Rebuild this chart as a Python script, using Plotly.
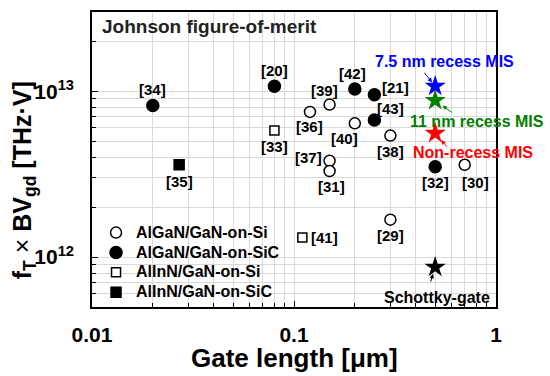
import plotly.graph_objects as go
import numpy as np

# ---------------- data ----------------
si_algan_refs = ["[36]", "[39]", "[37]", "[31]", "[40]", "[38]", "[30]", "[29]"]
si_algan_x = [0.12, 0.15, 0.15, 0.15, 0.20, 0.30, 0.70, 0.30]
si_algan_y = [7.5e12, 8.3e12, 3.8e12, 3.3e12, 6.4e12, 5.4e12, 3.6e12, 1.68e12]

sic_algan_refs = ["[34]", "[20]", "[42]", "[21]", "[43]", "[32]"]
sic_algan_x = [0.02, 0.08, 0.20, 0.25, 0.25, 0.50]
sic_algan_y = [8.2e12, 1.07e13, 1.03e13, 9.5e12, 6.7e12, 3.5e12]

si_alinn_refs = ["[33]", "[41]"]
si_alinn_x = [0.08, 0.11]
si_alinn_y = [5.8e12, 1.31e12]

sic_alinn_refs = ["[35]"]
sic_alinn_x = [0.027]
sic_alinn_y = [3.6e12]

work_labels = ["7.5 nm recess MIS", "11 nm recess MIS", "Non-recess MIS", "Schottky-gate"]
work_x = [0.5, 0.5, 0.5, 0.5]
work_y = [1.07e13, 8.8e12, 5.57e12, 8.7e11]

x_tick_vals = [0.01, 0.1, 1]
x_tick_text = ["0.01", "0.1", "1"]
y_tick_vals = [1e12, 1e13]
y_tick_text = ["10<sup>12</sup>", "10<sup>13</sup>"]

# ---------------- styles / positions ----------------
FONT = "Liberation Sans, Arial, sans-serif"
work_colors = ["#0000ff", "#008000", "#ff0000", "#000000"]
label_offsets = {
    "[34]": (0, 16), "[35]": (0, -17), "[20]": (0, 16), "[33]": (0, -16),
    "[36]": (0, -15), "[39]": (-5, 14), "[37]": (-21, 3), "[31]": (2, -15),
    "[42]": (-2, 16), "[40]": (-10, -15), "[21]": (21, 7), "[43]": (16, 12),
    "[38]": (0, -16), "[32]": (0, -16), "[30]": (11, -18), "[29]": (0, -16),
    "[41]": (22, 0),
}
work_text_shift = [(9, 25), (42, -21), (38, -19), (2, -30)]
work_arrow = [(-12, -15, 5), (18, 13, 9), (13, 15, 9), (-5, 16, 7)]

fig = go.Figure()
groups = [
    ("AlGaN/GaN-on-Si", si_algan_x, si_algan_y, si_algan_refs, "circle", "white", 11),
    ("AlGaN/GaN-on-SiC", sic_algan_x, sic_algan_y, sic_algan_refs, "circle", "black", 12),
    ("AlInN/GaN-on-Si", si_alinn_x, si_alinn_y, si_alinn_refs, "square", "white", 9),
    ("AlInN/GaN-on-SiC", sic_alinn_x, sic_alinn_y, sic_alinn_refs, "square", "black", 10),
]
annotations = []
for name, xs, ys, refs, sym, fill, size in groups:
    fig.add_trace(go.Scatter(
        x=xs, y=ys, mode="markers",
        name="<span style='font-size:16px'>" + name + "</span>",
        marker=dict(symbol=sym, size=size, color=fill,
                    line=dict(color="black", width=1.5)),
    ))
    for xv, yv, r in zip(xs, ys, refs):
        dx, dy = label_offsets[r]
        annotations.append(dict(x=np.log10(xv), y=np.log10(yv), text=r, showarrow=False,
                                xshift=dx, yshift=dy,
                                font=dict(family=FONT, size=15, color="black", weight="bold")))

for i, (lab, xv, yv) in enumerate(zip(work_labels, work_x, work_y)):
    fig.add_trace(go.Scatter(
        x=[xv], y=[yv], mode="markers", showlegend=False,
        marker=dict(symbol="star", size=16, color=work_colors[i],
                    line=dict(width=0)),
    ))
    dx, dy = work_text_shift[i]
    annotations.append(dict(x=np.log10(xv), y=np.log10(yv), text=lab, showarrow=False,
                            xshift=dx, yshift=dy,
                            font=dict(family=FONT, size=16, color=work_colors[i], weight="bold")))
    ax, ay, so = work_arrow[i]
    annotations.append(dict(x=np.log10(xv), y=np.log10(yv), text="", showarrow=True,
                            ax=ax, ay=ay, axref="pixel", ayref="pixel",
                            arrowhead=2, arrowsize=0.9, arrowwidth=1,
                            arrowcolor=work_colors[i], standoff=so))

annotations.append(dict(xref="paper", yref="paper", x=0.02, y=0.952, xanchor="left",
                        yanchor="middle", showarrow=False, text="Johnson figure-of-merit",
                        font=dict(family=FONT, size=19, color="#222", weight="bold")))
annotations.append(dict(xref="paper", yref="paper", x=0.5, y=-0.172, xanchor="center",
                        yanchor="middle", showarrow=False, text="Gate length [μm]",
                        font=dict(family=FONT, size=26, color="black", weight="bold")))
annotations.append(dict(xref="paper", yref="paper", x=-0.168, y=0.43, xanchor="center",
                        yanchor="middle", showarrow=False, textangle=-90,
                        text="f<sub>T</sub> <span style='font-weight:normal'>×</span> BV<sub>gd</sub> [THz·V]",
                        font=dict(family=FONT, size=25, color="black", weight="bold")))

minor_x = [m * 10.0 ** e for e in (-2, -1) for m in range(2, 10)]
minor_y = [m * 10.0 ** e for e in (11, 12, 13) for m in range(2, 10)]
minor_y = [v for v in minor_y if 5e11 <= v <= 3e13]

grid_c = "#d9d9d9"
fig.update_xaxes(type="log", range=[-2, 0], tickvals=x_tick_vals, ticktext=x_tick_text,
                 ticks="inside", ticklen=6, tickcolor="black", showline=True,
                 linecolor="black", linewidth=1.5, mirror=True, showgrid=True,
                 gridcolor=grid_c, gridwidth=1, zeroline=False, ticklabelstandoff=8,
                 tickfont=dict(family=FONT, size=21, color="black", weight="bold"),
                 minor=dict(tickvals=minor_x, ticks="inside", ticklen=4, tickcolor="black",
                            showgrid=True, gridcolor=grid_c, gridwidth=1))
fig.update_yaxes(type="log", range=[np.log10(5e11), np.log10(3e13)], tickvals=y_tick_vals,
                 ticktext=y_tick_text, ticks="inside", ticklen=6, tickcolor="black",
                 showline=True, linecolor="black", linewidth=1.5, mirror=True,
                 showgrid=True, gridcolor=grid_c, gridwidth=1, zeroline=False,
                 ticklabelstandoff=12,
                 tickfont=dict(family=FONT, size=21, color="black", weight="bold"),
                 minor=dict(tickvals=minor_y, ticks="inside", ticklen=4, tickcolor="black",
                            showgrid=True, gridcolor=grid_c, gridwidth=1))

fig.update_layout(
    width=550, height=376,
    margin=dict(l=92, r=54, t=10, b=69),
    paper_bgcolor="white", plot_bgcolor="white",
    annotations=annotations,
    showlegend=True,
    hovermode=False,
    legend=dict(x=0.01, y=0.303, xanchor="left", yanchor="top", bgcolor="rgba(0,0,0,0)",
                font=dict(family=FONT, size=13, color="black", weight="bold"),
                itemsizing="trace", tracegroupgap=0),
)

fig.write_html("out.html", config={"displayModeBar": False},
               post_script="document.body.style.margin='0';document.body.style.padding='0';")
